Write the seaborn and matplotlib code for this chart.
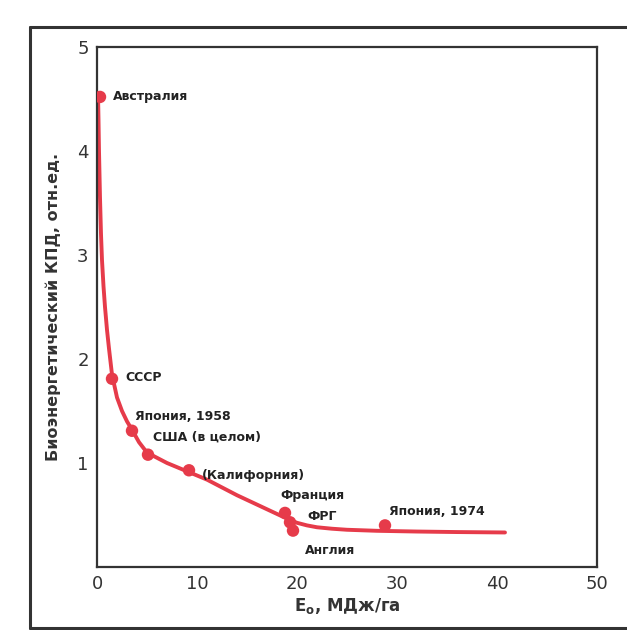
import numpy as np
import pandas as pd
import matplotlib
matplotlib.use("Agg")
import matplotlib.pyplot as plt
from matplotlib.lines import Line2D
import seaborn as sns

# ---- data ----
countries = ["Австралия", "СССР", "Япония, 1958", "США (в целом)", "(Калифорния)",
             "Франция", "ФРГ", "Англия", "Япония, 1974"]
energy = [0.3, 1.5, 3.5, 5.1, 9.2, 18.8, 19.3, 19.6, 28.8]
efficiency = [4.52, 1.81, 1.31, 1.08, 0.93, 0.52, 0.43, 0.35, 0.40]

# label anchor points (data units)
label_x = [1.6, 2.8, 3.8, 5.6, 10.5, 18.3, 21.0, 20.8, 29.2]
label_y = [4.52, 1.82, 1.45, 1.25, 0.88, 0.69, 0.49, 0.16, 0.53]

# fitted curve, hand-traced
curve_x = [0.1, 0.15, 0.2, 0.3, 0.4, 0.5, 0.65, 0.8, 1.0, 1.2, 1.5, 2.0, 2.5, 3.0, 3.5,
           4.2, 5.0, 6.0, 7.0, 8.0, 9.0, 10.0, 11.0, 12.0, 13.0, 14.0, 15.0, 16.0,
           17.0, 18.0, 19.0, 20.0, 21.0, 22.0, 23.5, 25.0, 28.0, 32.0, 36.0, 40.8]
curve_y = [4.55, 4.3, 4.0, 3.55, 3.2, 2.95, 2.7, 2.5, 2.28, 2.1, 1.85, 1.63, 1.5, 1.4, 1.32,
           1.2, 1.1, 1.05, 1.0, 0.96, 0.92, 0.88, 0.84, 0.79, 0.74, 0.69, 0.645, 0.6,
           0.555, 0.51, 0.465, 0.425, 0.4, 0.382, 0.368, 0.358, 0.348, 0.341, 0.336, 0.332]

RED = "#e63b4a"

sns.set_style("white")
plt.rcParams["font.family"] = ["DejaVu Sans"]

fig = plt.figure(figsize=(6.27, 6.30), dpi=100)
ax = fig.add_axes([97 / 627, 1 - 567 / 630, 500 / 627, 520 / 630])

curve = pd.DataFrame({"x": curve_x, "y": curve_y})
pts = pd.DataFrame({"x": energy, "y": efficiency, "name": countries})

sns.lineplot(data=curve, x="x", y="y", ax=ax, color=RED, linewidth=2.8, sort=False)
sns.scatterplot(data=pts, x="x", y="y", ax=ax, color=RED, s=80, edgecolor="none", zorder=3)

for lx, ly, name in zip(label_x, label_y, countries):
    ax.text(lx, ly, name, fontsize=9, fontweight="bold", color="#222222",
            ha="left", va="center", family=["Liberation Sans Narrow", "DejaVu Sans"])

ax.set_xlim(0, 50)
ax.set_ylim(0, 5)
ax.set_xticks([0, 10, 20, 30, 40, 50])
ax.set_yticks([1, 2, 3, 4, 5])
ax.tick_params(axis="both", direction="in", length=4, width=1.2, labelsize=13,
               colors="#333333", pad=6)
for s in ax.spines.values():
    s.set_color("#333333")
    s.set_linewidth(1.6)

ax.set_xlabel(r"E$_\mathregular{o}$, МДж/га", fontsize=12, fontweight="bold",
              color="#333333", labelpad=2)
ax.set_ylabel("Биоэнергетический КПД, отн.ед.", fontsize=11.5, fontweight="bold",
              color="#333333", labelpad=12)

# outer page frame
frame = dict(color="#333333", linewidth=2.2, transform=fig.transFigure)
fig.add_artist(Line2D([30 / 627, 30 / 627], [1 - 27 / 630, 1 - 628 / 630], **frame))
fig.add_artist(Line2D([30 / 627, 1.0], [1 - 27 / 630, 1 - 27 / 630], **frame))
fig.add_artist(Line2D([30 / 627, 1.0], [1 - 628 / 630, 1 - 628 / 630], **frame))

fig.savefig("out.png", dpi=100)
